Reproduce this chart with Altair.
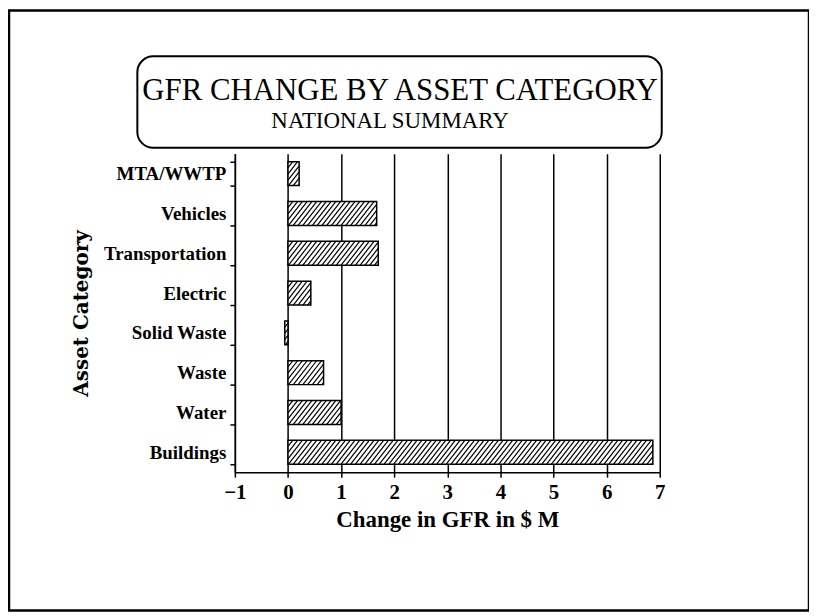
import altair as alt
import pandas as pd

categories = ["MTA/WWTP", "Vehicles", "Transportation", "Electric",
              "Solid Waste", "Waste", "Water", "Buildings"]
values = [0.21, 1.67, 1.70, 0.43, -0.06, 0.67, 1.00, 6.87]
x_ticks = [-1, 0, 1, 2, 3, 4, 5, 6, 7]
title_text = "GFR CHANGE BY ASSET CATEGORY"
subtitle_text = "NATIONAL SUMMARY"
x_title = "Change in GFR in $ M"
y_title = "Asset Category"

n = len(categories)
df = pd.DataFrame({"category": categories, "value": values,
                   "idx": [n - 1 - i for i in range(n)]})

W, H = 427, 320
FONT = "Liberation Serif"
xscale = alt.Scale(domain=[-1, 7], nice=False, zero=False)
x_axis = alt.Axis(values=x_ticks, grid=True, gridColor="black", gridOpacity=1,
                  gridWidth=1.5, domainColor="black", domainWidth=1.5,
                  tickColor="black", tickWidth=1.5, tickSize=5,
                  labelFont=FONT, labelFontWeight="bold", labelFontSize=21,
                  labelColor="black", labelPadding=4, labelFlush=False,
                  labelOverlap=False, format="d",
                  title=x_title, titleFont=FONT, titleFontWeight="bold",
                  titleFontSize=23, titleColor="black", titlePadding=7)

bars = alt.Chart(df).mark_bar(fill="white", stroke="black", strokeWidth=1.5).encode(
    x=alt.X("value:Q", scale=xscale, axis=x_axis),
    y=alt.Y("category:N", sort=categories,
            scale=alt.Scale(paddingInner=0.4, paddingOuter=0.2),
            axis=alt.Axis(tickBand="extent", domainColor="black", domainWidth=1.5,
                          tickColor="black", tickWidth=1.5, tickSize=5,
                          labelFont=FONT, labelFontWeight="bold", labelFontSize=19,
                          labelColor="black", labelPadding=4,
                          title=y_title, titleFont="DejaVu Serif", titleFontWeight="bold",
                          titleFontSize=20, titleColor="black",
                          titleX=-154, titleY=160, titleAlign="center",
                          titleBaseline="middle", titleAngle=270)),
)

d = 0.35
half = 0.3
step = 0.09
hatch = (
    alt.Chart(df)
    .transform_calculate(lo="min(0, datum.value)")
    .transform_calculate(hi="max(0, datum.value)")
    .transform_calculate(offs=f"sequence(datum.lo - {d}, datum.hi, {step})")
    .transform_flatten(["offs"])
    .transform_calculate(ts=f"max(0, (datum.lo - datum.offs) / {d})")
    .transform_calculate(te=f"min(1, (datum.hi - datum.offs) / {d})")
    .transform_filter("datum.ts < datum.te")
    .transform_calculate(hx1=f"datum.offs + {d} * datum.ts")
    .transform_calculate(hx2=f"datum.offs + {d} * datum.te")
    .transform_calculate(hy1=f"datum.idx - {half} + {2*half} * datum.ts")
    .transform_calculate(hy2=f"datum.idx - {half} + {2*half} * datum.te")
    .mark_rule(color="black", strokeWidth=1.2)
    .encode(
        x=alt.X("hx1:Q", scale=xscale, axis=x_axis),
        x2="hx2:Q",
        y=alt.Y("hy1:Q", scale=alt.Scale(domain=[-0.5, n - 0.5], nice=False, zero=False),
                axis=None),
        y2="hy2:Q",
    )
)

one = pd.DataFrame({"t": [title_text], "s": [subtitle_text]})

box = alt.Chart(one).mark_rect(fill="transparent", stroke="black", strokeWidth=2,
                               cornerRadius=16).encode(
    x=alt.value(-98), x2=alt.value(429), y=alt.value(-98), y2=alt.value(-6))

title = alt.Chart(one).mark_text(font=FONT, fontSize=31, color="black",
                                 align="center", baseline="alphabetic").encode(
    text="t:N", x=alt.value(166), y=alt.value(-54))

subtitle = alt.Chart(one).mark_text(font=FONT, fontSize=23, color="black",
                                    align="center", baseline="alphabetic").encode(
    text="s:N", x=alt.value(156), y=alt.value(-26))

border = alt.Chart(one).mark_rect(fill="transparent", stroke="black", strokeWidth=2.5).encode(
    x=alt.value(-227), x2=alt.value(577), y=alt.value(-144), y2=alt.value(459))

chart = (
    alt.layer(bars, hatch, box, title, subtitle, border)
    .resolve_scale(y="independent")
    .resolve_axis(y="independent")
    .properties(width=W, height=H,
                autosize=alt.AutoSizeParams(type="none"),
                padding={"left": 228, "top": 145, "right": 150, "bottom": 139},
                background="white")
    .configure_view(stroke=None)
)

chart.save("out.html", embed_options={"renderer": "svg", "actions": False})
